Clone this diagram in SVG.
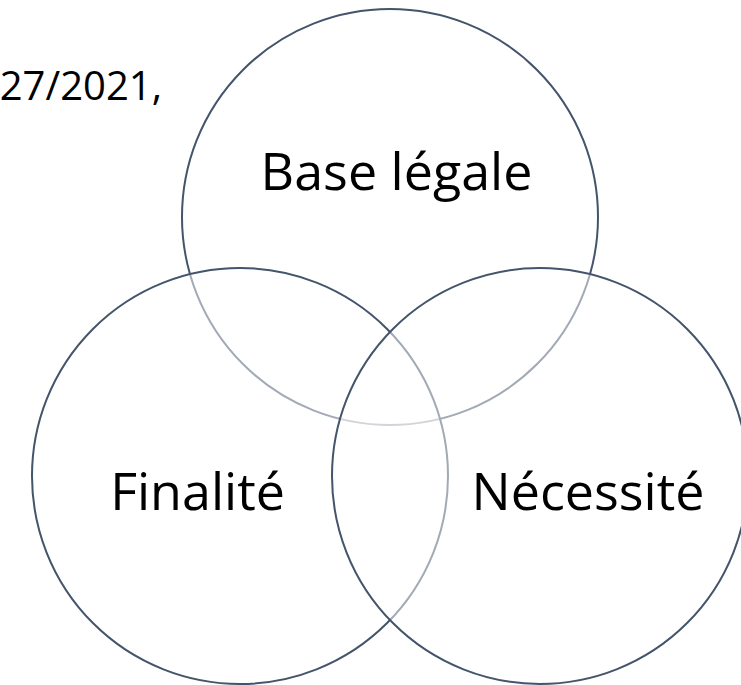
<svg xmlns="http://www.w3.org/2000/svg" width="741" height="685" viewBox="0 0 741 685">
<style>
.c{fill:#ffffff;fill-opacity:0.5;stroke:#44546A;stroke-width:2}
.t{font-family:"Open Sans","Noto Sans",sans-serif;font-size:52px;fill:#000000;text-anchor:middle}
.h{font-family:"Open Sans","Noto Sans",sans-serif;font-size:40px;fill:#000000;text-anchor:end}
</style>
<rect width="741" height="685" fill="#ffffff"/>
<text class="h" x="162" y="100">27/2021,</text>
<g id="base-legale">
<circle class="c" cx="390" cy="217" r="208"/>
<text class="t" x="396.5" y="190">Base légale</text>
</g>
<g id="finalite">
<circle class="c" cx="240" cy="476" r="208"/>
<text class="t" x="197.5" y="510">Finalité</text>
</g>
<g id="necessite">
<circle class="c" cx="540" cy="476" r="208"/>
<text class="t" x="588" y="510">Nécessité</text>
</g>
</svg>
